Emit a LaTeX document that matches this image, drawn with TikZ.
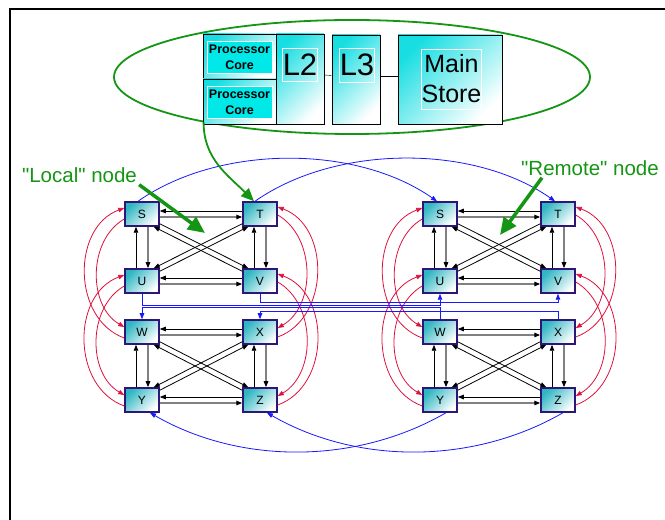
\documentclass[tikz,border=0pt]{standalone}
\usepackage{fontspec}
\setmainfont{Liberation Sans}[Ligatures=TeXOff]
\usetikzlibrary{arrows.meta,shapes.geometric}

\definecolor{cellfill}{RGB}{48,182,194}
\definecolor{cellline}{RGB}{44,22,120}
\definecolor{boxfill}{RGB}{24,222,226}
\definecolor{corefill}{RGB}{0,232,232}
\definecolor{linkgreen}{RGB}{20,150,20}
\definecolor{linkred}{RGB}{222,16,60}
\definecolor{linkblue}{RGB}{24,24,255}

\tikzset{
  cell/.style={draw=cellline, line width=1.5pt, top color=cellfill, bottom color=white,
    shading angle=45, minimum width=34pt, minimum height=24pt, inner sep=0pt,
    font=\fontsize{12}{12}\selectfont},
  unit/.style={draw=black, line width=0.8pt, top color=boxfill, bottom color=white,
    shading angle=45, inner sep=0pt},
  innertag/.style={draw=white, line width=0.8pt, inner sep=0pt, align=center},
  arr/.style={-{Triangle[length=6pt,width=4.5pt,color=black]}, line width=0.8pt},
  arrg/.style={arr, draw=black!50, line width=1.3pt},
  redlink/.style={-{Triangle[length=6pt,width=4.5pt]}, draw=linkred, line width=0.8pt},
  bluelink/.style={-{Triangle[length=6pt,width=4.5pt]}, draw=linkblue, line width=0.8pt},
  bigarrow/.style={-{Triangle[length=17pt,width=15pt]}, draw=linkgreen, line width=3.5pt},
  nodelabel/.style={text=linkgreen, inner sep=2pt, font=\fontsize{20.5}{24}\selectfont}
}

\begin{document}
\begin{tikzpicture}[x=1pt,y=1pt]
  \useasboundingbox (0,0) rectangle (665,520);
  \draw[line width=2pt] (10,0) -- (10,511) -- (665,511);

  % processor chip
  \node[ellipse, draw=linkgreen, line width=1.8pt, minimum width=476pt, minimum height=114pt, inner sep=0pt] (chip) at (352,443) {};
  \node[unit, minimum width=73pt, minimum height=45pt] (core1) at (239.5,463.5) {};
  \node[unit, minimum width=73pt, minimum height=45pt] (core2) at (239.5,418.5) {};
  \node[unit, minimum width=48pt, minimum height=90pt] (l2) at (300,441) {};
  \node[unit, minimum width=48pt, minimum height=89pt] (l3) at (356,440.5) {};
  \node[unit, minimum width=104pt, minimum height=89pt] (store) at (450,440.5) {};
  \node[innertag, fill=corefill, minimum width=65pt, minimum height=32pt,
        font=\bfseries\fontsize{12.5}{16}\selectfont] (core1t) at (239.5,463) {Processor\\Core};
  \node[innertag, fill=corefill, minimum width=65pt, minimum height=32pt,
        font=\bfseries\fontsize{12.5}{16}\selectfont] (core2t) at (239.5,418) {Processor\\Core};
  \node[innertag, minimum width=34pt, minimum height=33pt, font=\fontsize{31}{31}\selectfont] (l2t) at (300,455.5) {L2};
  \node[innertag, minimum width=32pt, minimum height=34pt, font=\fontsize{31}{31}\selectfont] (l3t) at (357,455) {L3};
  \node[innertag, minimum width=59pt, minimum height=60pt, font=\fontsize{25}{30}\selectfont] (storet) at (451.5,441) {Main\\Store};
  \draw ([yshift=4pt]l2.east) -- ([yshift=4pt]l3.west);
  \draw ([yshift=3pt]l3.east) -- ([yshift=3pt]store.west);

  % the two nodes of eight chips
  \foreach \p/\x in {l/142,r/440}{
    \node[cell] (\p S) at (\x,306) {S};
    \node[cell] (\p T) at (\x+118,306) {T};
    \node[cell] (\p U) at (\x,239) {U};
    \node[cell] (\p V) at (\x+118,239) {V};
    \node[cell] (\p W) at (\x,188) {W};
    \node[cell] (\p X) at (\x+118,188) {X};
    \node[cell] (\p Y) at (\x,120) {Y};
    \node[cell] (\p Z) at (\x+118,120) {Z};
  }

  % links inside a group of four
  \foreach \p/\a/\b/\c/\d in {l/S/T/U/V,l/W/X/Y/Z,r/S/T/U/V,r/W/X/Y/Z}{
    \draw[arr] ([yshift=3pt]\p\b.west) -- ([yshift=3pt]\p\a.east);
    \draw[arrg] ([yshift=-3pt]\p\a.east) -- ([yshift=-3pt]\p\b.west);
    \draw[arr] ([yshift=3pt]\p\d.west) -- ([yshift=3pt]\p\c.east);
    \draw[arrg] ([yshift=-3pt]\p\c.east) -- ([yshift=-3pt]\p\d.west);
    \draw[arr] ([xshift=-6pt]\p\c.north) -- ([xshift=-6pt]\p\a.south);
    \draw[arrg] ([xshift=6pt]\p\a.south) -- ([xshift=6pt]\p\c.north);
    \draw[arr] ([xshift=-6pt]\p\d.north) -- ([xshift=-6pt]\p\b.south);
    \draw[arrg] ([xshift=6pt]\p\b.south) -- ([xshift=6pt]\p\d.north);
    \draw[arr] ([yshift=3pt]\p\a.south east) -- ([xshift=6pt]\p\d.north west);
    \draw[arr] ([yshift=-3pt]\p\d.north west) -- ([xshift=-6pt]\p\a.south east);
    \draw[arr] ([yshift=3pt]\p\b.south west) -- ([xshift=-6pt]\p\c.north east);
    \draw[arr] ([yshift=-3pt]\p\c.north east) -- ([xshift=6pt]\p\b.south west);
  }

  % links between the two groups of a node
  \foreach \p in {l,r}{
    \foreach \a/\b in {S/W,U/Y}{
      \draw[redlink] ([yshift=-5pt]\p\a.west) to[out=210,in=150] ([yshift=5pt]\p\b.west);
      \draw[redlink] ([yshift=-6pt]\p\b.west) to[out=160,in=200,looseness=1.1] ([yshift=6pt]\p\a.west);
    }
    \foreach \a/\b in {T/X,V/Z}{
      \draw[redlink] ([yshift=-1pt]\p\a.east) to[out=-30,in=30] ([yshift=4pt]\p\b.east);
      \draw[redlink] ([yshift=-5pt]\p\b.east) to[out=20,in=-20,looseness=1.1] ([yshift=7pt]\p\a.east);
    }
  }

  % links between the two nodes
  \draw[bluelink] ([xshift=-4pt]lS.north) to[out=35,in=145,looseness=0.85] ([xshift=-3pt]rS.north);
  \draw[bluelink] ([xshift=-5pt]lT.north) to[out=35,in=145,looseness=0.85] ([xshift=-3pt]rT.north);
  \draw[bluelink] (lU.south) -- ++(0,-12) -| (rU.south);
  \draw[bluelink] (lV.south) -- ++(0,-9) -| (rV.south);
  \draw[bluelink] (rW.north) -- ++(0,12) -| (lW.north);
  \draw[bluelink] (rX.north) -- ++(0,8) -| (lX.north);
  \draw[bluelink] ([xshift=6pt]rY.south) to[out=-150,in=-30,looseness=0.9] ([xshift=8pt]lY.south);
  \draw[bluelink] ([xshift=5pt]rZ.south) to[out=-150,in=-30,looseness=0.9] ([xshift=7pt]lZ.south);

  % labels
  \node[nodelabel] (localtag) at (79.5,345) {"Local" node};
  \node[nodelabel] (remotetag) at (590,352) {"Remote" node};
  \coordinate (localmid) at (205,287);
  \coordinate (remotemid) at (500,285);
  \draw[bigarrow] (localtag.south east) -- (localmid);
  \draw[bigarrow] ([xshift=-48pt]remotetag.south) -- (remotemid);
  \draw[-{Triangle[length=13pt,width=11pt]}, draw=linkgreen, line width=1.8pt]
    (chip.197) to[out=-90,in=135] ([xshift=-6pt]lT.north);
\end{tikzpicture}
\end{document}
